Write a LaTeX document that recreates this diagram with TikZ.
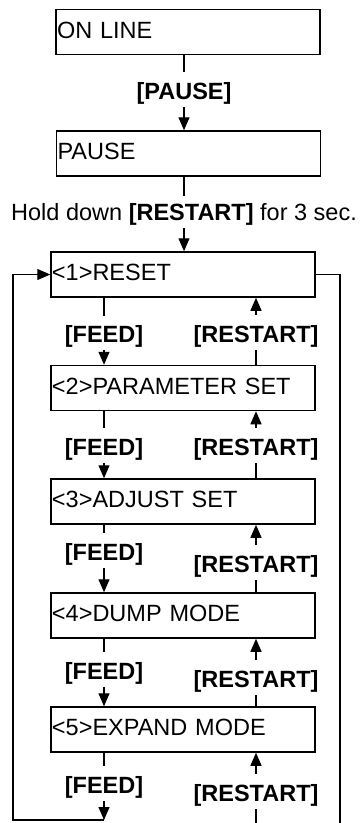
\documentclass[tikz,border=0pt]{standalone}
\usepackage{fontspec}
\setmainfont{Liberation Sans}
\usetikzlibrary{arrows.meta}

\begin{document}
\begin{tikzpicture}[
    x=1pt, y=-1pt,
    screen/.style={draw, line width=1.5pt, rectangle, minimum height=45pt, text width=262pt, inner xsep=1pt, align=left, text height=17pt, text depth=5pt, font=\fontsize{23.5}{27}\selectfont},
    key/.style={inner sep=0pt, text height=27pt, text depth=7.5pt, font=\fontsize{23.5}{27}\selectfont\bfseries},
    note/.style={inner sep=0pt, text height=24pt, text depth=8pt, font=\fontsize{23.5}{27}\selectfont},
    link/.style={line width=1.2pt},
    arr/.style={line width=1.2pt, -{Triangle[length=13pt, width=11pt]}}
]
\useasboundingbox (0,0) rectangle (361,823);

% Screens
\node (online) [screen] at (188,32) {ON LINE};
\node (pause) [screen] at (188.5,153.5) {PAUSE};
\node (reset) [screen] at (183,274.5) {<1>RESET};
\node (param) [screen] at (183,388) {<2>PARAMETER SET};
\node (adjust) [screen] at (183,501.5) {<3>ADJUST SET};
\node (dump) [screen] at (183,615.5) {<4>DUMP MODE};
\node (expand) [screen] at (183,729.5) {<5>EXPAND MODE};

% Keys
\node (kpause) [key] at (184,89.5) {[PAUSE]};
\node (khold) [note] at (184,212) {Hold down \textbf{[RESTART]} for 3 sec.};
\node (feed1) [key] at (104,333) {[FEED]};
\node (feed2) [key] at (104,445.5) {[FEED]};
\node (feed3) [key] at (104,550.5) {[FEED]};
\node (feed4) [key] at (104,669.5) {[FEED]};
\node (feed5) [key] at (104,783.5) {[FEED]};
\node (rest1) [key] at (256,332.5) {[RESTART]};
\node (rest2) [key] at (256,445.5) {[RESTART]};
\node (rest3) [key] at (256,562.5) {[RESTART]};
\node (rest4) [key] at (256,677.5) {[RESTART]};
\node (rest5) [key] at (256,791.5) {[RESTART]};

\coordinate (loopbl) at (13,820);
\coordinate (loopbr) at (340,823);
\coordinate (restbot) at (256,823);

% Arrows
\draw[link] (online.south -| kpause) -- (kpause.north);
\draw[arr] (kpause.south) -- (kpause.south |- pause.north);
\draw[link] (pause.south -| khold) -- (khold.north);
\draw[arr] (khold.south) -- (khold.south |- reset.north);

\foreach \upper/\lower/\i in {reset/param/1, param/adjust/2, adjust/dump/3, dump/expand/4}{
    \draw[link] (\upper.south -| feed\i) -- (feed\i.north);
    \draw[arr] (feed\i.south) -- (feed\i.south |- \lower.north);
    \draw[arr] (rest\i.north) -- (rest\i.north |- \upper.south);
    \draw[link] (\lower.north -| rest\i) -- (rest\i.south);
}

\draw[link] (expand.south -| feed5) -- (feed5.north);
\draw[arr] (feed5.south) -- (feed5.south |- loopbl);
\draw[arr] (feed5.south |- loopbl) -- (loopbl) |- (reset.west);
\draw[arr] (rest5.north) -- (rest5.north |- expand.south);
\draw[link] (restbot) -- (rest5.south);
\draw[link] (reset.east) -| (loopbr);

\end{tikzpicture}
\end{document}
